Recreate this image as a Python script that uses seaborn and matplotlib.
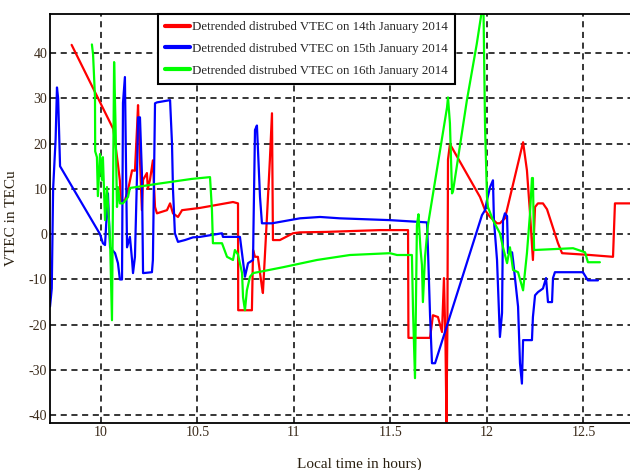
import numpy as np
import pandas as pd
import matplotlib
matplotlib.use("Agg")
import matplotlib.pyplot as plt
import seaborn as sns

labels = ["Detrended distrubed VTEC on 14th January 2014",
          "Detrended distrubed VTEC on 15th January 2014",
          "Detrended distrubed VTEC on 16th January 2014"]
colors = ["#ff0000", "#0000ff", "#00ff00"]

red_x = [9.848, 10.064, 10.081, 10.088, 10.098, 10.103, 10.124, 10.140, 10.161, 10.176,
         10.187, 10.192, 10.197, 10.212, 10.218, 10.238, 10.243, 10.254, 10.269, 10.280,
         10.290, 10.342, 10.358, 10.373, 10.399, 10.420, 10.513, 10.684, 10.710, 10.711,
         10.782, 10.788, 10.798, 10.813, 10.834, 10.839, 10.860, 10.875, 10.886, 10.891,
         10.927, 10.995, 11.031, 11.166, 11.446, 11.591, 11.593, 11.705, 11.720, 11.746,
         11.767, 11.777, 11.785, 11.790, 11.795, 11.798, 11.808, 11.964, 11.990, 12.016,
         12.052, 12.067, 12.093, 12.187, 12.207, 12.223, 12.238, 12.249, 12.264, 12.290,
         12.311, 12.368, 12.389, 12.534, 12.653, 12.663, 12.741]
red_y = [41.8, 23.2, 17.7, 15.4, 11.8, 7.3, 7.5, 9.7, 14.1, 14.0,
         23.6, 28.5, 22.0, 5.3, 12.0, 13.5, 10.0, 12.0, 16.3, 6.0,
         4.6, 5.3, 6.8, 4.6, 3.8, 5.3, 5.8, 7.1, 6.8, -16.8,
         -16.8, -3.5, -5.0, -5.0, -11.7, -13.0, 3.8, 16.3, 26.7, -1.3,
         -1.3, 0.2, 0.4, 0.5, 0.9, 0.9, -22.9, -22.9, -17.9, -18.3,
         -21.6, -9.7, -24.0, -41.5, -20.0, 16.5, 19.9, 8.2, 5.3, 3.8,
         2.4, 2.4, 3.5, 20.3, 14.1, 4.6, -5.7, 6.0, 6.8, 6.8,
         5.5, -2.0, -4.2, -4.6, -5.0, 6.8, 6.8]

blue_x = [9.736, 9.745, 9.752, 9.765, 9.772, 9.778, 9.788, 9.995, 10.010, 10.021,
          10.036, 10.047, 10.073, 10.088, 10.098, 10.109, 10.114, 10.124, 10.135, 10.150,
          10.161, 10.166, 10.176, 10.187, 10.192, 10.202, 10.212, 10.218, 10.264, 10.269,
          10.280, 10.290, 10.358, 10.368, 10.373, 10.383, 10.399, 10.435, 10.477, 10.513,
          10.627, 10.632, 10.720, 10.731, 10.746, 10.762, 10.788, 10.790, 10.798, 10.808,
          10.824, 10.834, 10.886, 11.031, 11.135, 11.238, 11.497, 11.689, 11.694, 11.705,
          11.715, 11.731, 11.974, 11.990, 12.000, 12.016, 12.031, 12.036, 12.052, 12.067,
          12.078, 12.083, 12.093, 12.104, 12.109, 12.130, 12.135, 12.161, 12.171, 12.181,
          12.187, 12.233, 12.238, 12.249, 12.264, 12.290, 12.306, 12.316, 12.337, 12.342,
          12.352, 12.497, 12.523, 12.575]
blue_y = [-16.0, -12.0, 10.0, 21.0, 32.4, 30.0, 15.0, 0.0, -2.0, -2.4,
          9.0, -2.9, -4.2, -6.4, -10.0, -10.0, 29.0, 34.7, -2.9, -0.6,
          -5.7, -8.6, -5.0, 13.5, 25.8, 25.8, 13.5, -8.6, -8.4, -5.7,
          28.9, 29.1, 29.6, 20.0, 10.0, 0.2, -1.7, -1.3, -0.7, -0.6,
          0.2, -0.6, -0.6, -4.3, -9.4, -6.4, -5.7, 0.9, 23.0, 24.0,
          8.2, 2.4, 2.4, 3.5, 3.8, 3.5, 3.1, 2.6, -3.1, -17.9,
          -28.5, -28.5, 4.2, 5.3, 7.5, 10.4, 11.9, 3.1, -5.7, -22.7,
          -17.4, 3.1, 4.6, 4.0, -4.2, -4.0, -5.7, -16.0, -28.5, -33.0,
          -23.4, -23.4, -18.3, -13.5, -12.8, -12.0, -9.7, -15.0, -15.0, -9.7,
          -8.4, -8.4, -10.2, -10.2]

green_x = [9.953, 9.959, 9.969, 9.970, 9.979, 9.984, 9.995, 10.005, 10.010, 10.021,
           10.031, 10.047, 10.057, 10.068, 10.075, 10.083, 10.088, 10.098, 10.114, 10.140,
           10.150, 10.306, 10.470, 10.565, 10.575, 10.580, 10.627, 10.653, 10.684, 10.694,
           10.710, 10.731, 10.736, 10.746, 10.756, 10.772, 10.788, 10.943, 11.119, 11.290,
           11.497, 11.534, 11.611, 11.617, 11.627, 11.637, 11.645, 11.655, 11.663, 11.668,
           11.679, 11.694, 11.793, 11.798, 11.808, 11.819, 11.824, 11.896, 11.947, 11.974,
           11.982, 11.990, 12.000, 12.005, 12.031, 12.067, 12.083, 12.104, 12.119, 12.135,
           12.161, 12.187, 12.207, 12.223, 12.233, 12.238, 12.244, 12.446, 12.508, 12.523,
           12.585]
green_y = [41.9, 39.7, 30.2, 18.3, 17.0, 8.4, 17.7, 12.0, 17.0, 3.1,
           10.4, -1.3, -19.0, 38.0, 25.0, 6.0, 10.4, 6.8, 6.8, 8.2,
           10.2, 11.2, 12.2, 12.6, 5.3, -2.0, -2.0, -5.0, -5.7, -3.5,
           -4.5, -8.6, -13.9, -16.8, -12.4, -9.4, -8.6, -7.3, -5.7, -4.6,
           -4.2, -4.6, -4.6, -17.2, -31.8, 2.0, 4.4, -3.0, -6.8, -15.0,
           -5.0, 2.0, 28.0, 30.2, 24.5, 9.0, 9.5, 29.6, 42.0, 49.5,
           49.5, 23.6, 8.2, 6.0, 3.1, 0.2, -2.9, -6.4, -2.9, -7.9,
           -8.4, -12.4, -4.2, 4.6, 12.4, 12.4, -3.5, -3.1, -4.0, -6.2,
           -6.2]

xticks = [10, 10.5, 11, 11.5, 12, 12.5]
xtick_labels = ["10", "10.5", "11", "11.5", "12", "12.5"]
yticks = [-40, -30, -20, -10, 0, 10, 20, 30, 40]
ytick_labels = ["-40", "-30", "-20", "-10", "0", "10", "20", "30", "40"]

frames = []
for lab, xs, ys in zip(labels, [red_x, blue_x, green_x], [red_y, blue_y, green_y]):
    frames.append(pd.DataFrame({"x": xs, "y": ys, "series": lab}))
df = pd.concat(frames, ignore_index=True)

sns.set_style("white")
plt.rcParams["font.family"] = ["Liberation Serif", "DejaVu Serif"]

fig = plt.figure(figsize=(6.3, 4.7), dpi=100)
ax = fig.add_axes([0.0794, 0.1, 0.9206, 0.870])

sns.lineplot(data=df, x="x", y="y", hue="series", hue_order=labels,
             palette=dict(zip(labels, colors)), sort=False, estimator=None,
             linewidth=1.6, ax=ax)

ax.set_xlim(9.736, 12.741)
ax.set_ylim(-41.7, 48.6)
ax.set_xticks(xticks)
ax.set_xticklabels(xtick_labels)
ax.set_yticks(yticks)
ax.set_yticklabels(ytick_labels)
ax.grid(True, color="black", linestyle=(0, (4, 3)), linewidth=1.1)
ax.set_axisbelow(True)
ax.tick_params(direction="in", length=4, width=1, color="black",
               labelsize=10, pad=2, labelcolor="#3a2a1a")
for side in ["left", "top", "bottom"]:
    ax.spines[side].set_color("black")
    ax.spines[side].set_linewidth(1.3)
ax.spines["right"].set_visible(False)

ax.set_xlabel("Local time in hours)", fontsize=11, color="#2a2010")
ax.xaxis.set_label_coords(0.534, -0.085)
ax.set_ylabel("VTEC in TECu", fontsize=11, color="#2a2010")
ax.yaxis.set_label_coords(-0.055, 0.5)

sns.move_legend(ax, "upper left", bbox_to_anchor=(0.186, 1.0), title=None,
                frameon=True, fancybox=False, fontsize=9.3, handlelength=1.9,
                labelspacing=0.75, borderpad=0.55, handletextpad=0.2,
                borderaxespad=0.0)
leg = ax.get_legend()
leg.get_frame().set_edgecolor("black")
leg.get_frame().set_linewidth(1.5)
leg.get_frame().set_alpha(1.0)
for h in leg.legend_handles:
    h.set_linewidth(3)

fig.savefig("out.png", dpi=100)
